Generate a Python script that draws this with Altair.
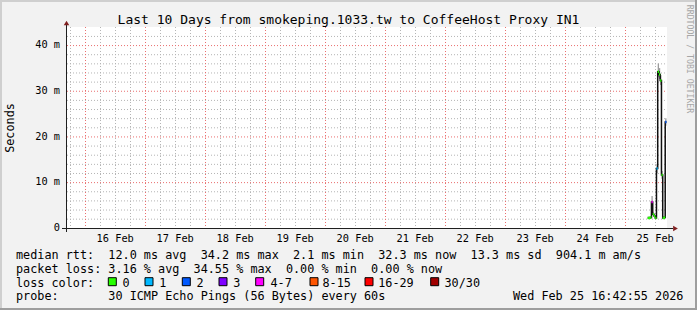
import altair as alt
import pandas as pd

# ---------------- data ----------------
sample_times = [
    "2026-02-25T09:00:00Z", "2026-02-25T09:30:00Z", "2026-02-25T10:00:00Z",
    "2026-02-25T10:30:00Z", "2026-02-25T11:00:00Z", "2026-02-25T11:30:00Z",
    "2026-02-25T12:00:00Z", "2026-02-25T12:30:00Z", "2026-02-25T13:00:00Z",
    "2026-02-25T13:30:00Z", "2026-02-25T14:00:00Z", "2026-02-25T14:30:00Z",
    "2026-02-25T15:00:00Z", "2026-02-25T15:30:00Z", "2026-02-25T16:00:00Z",
]
median_ms = [2.2, 2.2, 2.3, 5.7, 3.0, 2.6, 2.2, 13.0, 34.2, 33.6, 32.3, 11.6, 2.2, 2.3, 23.2]
smoke_lo_ms = [2.0, 2.0, 2.1, 4.6, 2.7, 2.4, 2.0, 12.0, 33.0, 32.6, 31.3, 10.8, 2.0, 2.1, 22.4]
smoke_hi_ms = [2.5, 2.5, 2.6, 7.0, 3.4, 2.9, 2.5, 14.0, 36.0, 35.0, 33.5, 12.5, 2.5, 2.6, 24.0]
loss_bucket = ["0", "0", "0", "4-7", "0", "0", "0", "1", "0", "0", "0", "0", "0", "0", "2"]

loss_labels = ["0", "1", "2", "3", "4-7", "8-15", "16-29", "30/30"]
loss_colors = ["#26ff00", "#00b8ff", "#0059ff", "#7e00ff", "#ff00ff", "#ff5500", "#ff0000", "#a10000"]

day_dates = ["2026-02-16", "2026-02-17", "2026-02-18", "2026-02-19", "2026-02-20",
             "2026-02-21", "2026-02-22", "2026-02-23", "2026-02-24", "2026-02-25"]
day_labels = ["16 Feb", "17 Feb", "18 Feb", "19 Feb", "20 Feb",
              "21 Feb", "22 Feb", "23 Feb", "24 Feb", "25 Feb"]

y_tick_values = [0, 10, 20, 30, 40]
y_tick_labels = ["0", "10 m", "20 m", "30 m", "40 m"]
y_major = [10, 20, 30, 40]
y_minor = [2, 4, 6, 8, 12, 14, 16, 18, 22, 24, 26, 28, 32, 34, 36, 38, 42]

title_text = "Last 10 Days from smokeping.1033.tw to CoffeeHost Proxy IN1"
legend_lines = [
    "median rtt:  12.0 ms avg  34.2 ms max  2.1 ms min  32.3 ms now  13.3 ms sd  904.1 m am/s",
    "packet loss: 3.16 % avg  34.55 % max  0.00 % min  0.00 % now",
    "loss color:",
    "probe:       30 ICMP Echo Pings (56 Bytes) every 60s",
]
probe_time = "Wed Feb 25 16:42:55 2026"
y_title = "Seconds"
watermark = "RRDTOOL / TOBI OETIKER"


def keep_spaces(s):
    return s.replace(" ", "\u00a0")


# ---------------- layout constants ----------------
W, H = 600, 201
PAD_L, PAD_T = 67, 27
FONT = "DejaVu Sans Mono"
FMT = "%Y-%m-%dT%H:%M:%SZ"

x_scale = alt.Scale(
    type="utc",
    domain=[
        alt.DateTime(year=2026, month=2, date=15, hours=16, minutes=42, seconds=55, utc=True),
        alt.DateTime(year=2026, month=2, date=25, hours=16, minutes=42, seconds=55, utc=True),
    ],
)
y_scale = alt.Scale(domain=[0, 44], nice=False, zero=True)
END = pd.Timestamp("2026-02-25T16:42:55Z")
START = pd.Timestamp("2026-02-15T16:42:55Z")

# ---------------- tables ----------------
t0 = pd.to_datetime(sample_times, utc=True)
t1 = t0 + pd.Timedelta(minutes=30)
df = pd.DataFrame({
    "t": t0.strftime(FMT),
    "t2": t1.strftime(FMT),
    "med": median_ms,
    "lo": smoke_lo_ms,
    "hi": smoke_hi_ms,
    "loss": loss_bucket,
})
df_line = pd.concat([
    df[["t", "med"]],
    pd.DataFrame({"t": [t1[-1].strftime(FMT)], "med": [median_ms[-1]]}),
], ignore_index=True)

midn = pd.to_datetime(day_dates, utc=True)
df_xmajor = pd.DataFrame({"t": midn.strftime(FMT)})
minor = [midn[0] - pd.Timedelta(hours=6)]
for d in midn:
    for h in (6, 12, 18):
        minor.append(d + pd.Timedelta(hours=h))
minor = [m for m in minor if START < m < END]
df_xminor = pd.DataFrame({"t": [m.strftime(FMT) for m in minor]})
df_xlab = pd.DataFrame({"t": (midn + pd.Timedelta(hours=12)).strftime(FMT), "lab": day_labels})

df_ymajor = pd.DataFrame({"v": y_major})
df_yminor = pd.DataFrame({"v": y_minor})
df_ylab = pd.DataFrame({"v": y_tick_values, "lab": y_tick_labels})

GRID = "#b4b4b4"
MGRID = "#ea6f6f"
DASH = [1, 2]

X = alt.X("t:T", scale=x_scale, axis=None)

yminor = alt.Chart(df_yminor).mark_rule(color=GRID, strokeDash=DASH, strokeWidth=1, yOffset=0.3).encode(
    y=alt.Y("v:Q", scale=y_scale, axis=None), x=alt.value(0), x2=alt.value(W))
xminor = alt.Chart(df_xminor).mark_rule(color=GRID, strokeDash=DASH, strokeWidth=1, xOffset=0.3).encode(
    x=X, y=alt.value(0), y2=alt.value(H))
ymajor = alt.Chart(df_ymajor).mark_rule(color=MGRID, strokeDash=DASH, strokeWidth=1, yOffset=0.3).encode(
    y=alt.Y("v:Q", scale=y_scale, axis=None), x=alt.value(0), x2=alt.value(W))
xmajor = alt.Chart(df_xmajor).mark_rule(color=MGRID, strokeDash=DASH, strokeWidth=1, xOffset=0.3).encode(
    x=X, y=alt.value(0), y2=alt.value(H))

smoke = alt.Chart(df).mark_rect(color="#9a9a9a").encode(
    x=X, x2="t2:T", y=alt.Y("lo:Q", scale=y_scale, axis=None), y2="hi:Q")
median_line = alt.Chart(df_line).mark_line(interpolate="step-after", color="#101010", strokeWidth=1.5).encode(
    x=X, y=alt.Y("med:Q", scale=y_scale, axis=None))
loss_seg = alt.Chart(df).mark_rule(strokeWidth=2.5).encode(
    x=X, x2="t2:T", y=alt.Y("med:Q", scale=y_scale, axis=None),
    color=alt.Color("loss:N", scale=alt.Scale(domain=loss_labels, range=loss_colors), legend=None))

# axes
AX = "#1f1f1f"
ARROW = "#802020"
xaxis = alt.Chart().mark_rule(color=AX, strokeWidth=1).encode(
    x=alt.value(-5), x2=alt.value(606), y=alt.value(H + 0.5))
yaxis = alt.Chart().mark_rule(color=AX, strokeWidth=1).encode(
    x=alt.value(-0.5), y=alt.value(-2), y2=alt.value(H + 4))
xarrow = alt.Chart().mark_point(shape="triangle-right", filled=True, color=ARROW, size=30, opacity=1).encode(
    x=alt.value(608.5), y=alt.value(H + 0.5))
yarrow = alt.Chart().mark_point(shape="triangle-up", filled=True, color=ARROW, size=30, opacity=1).encode(
    x=alt.value(-0.5), y=alt.value(-4))

ylab = alt.Chart(df_ylab).mark_text(font=FONT, fontSize=10.3, align="right", baseline="middle", color="black").encode(
    y=alt.Y("v:Q", scale=y_scale, axis=None), x=alt.value(-7), text="lab:N")
xlab = alt.Chart(df_xlab).mark_text(font=FONT, fontSize=10.3, align="center", baseline="alphabetic", color="black").encode(
    x=X, y=alt.value(214.5), text="lab:N")

title = alt.Chart().mark_text(font=FONT, fontSize=13, align="center", baseline="alphabetic", color="black",
                              text=keep_spaces(title_text)).encode(x=alt.value(281.5), y=alt.value(-3))
ytitle = alt.Chart().mark_text(font=FONT, fontSize=11.8, align="center", baseline="middle", angle=270,
                               color="black", text=y_title).encode(x=alt.value(10 - PAD_L), y=alt.value(128 - PAD_T))
wm = alt.Chart().mark_text(font=FONT, fontSize=8.2, align="center", baseline="middle", angle=90,
                           color="#a6a6a6", text=keep_spaces(watermark)).encode(
    x=alt.value(689 - PAD_L), y=alt.value(59 - PAD_T))

legend_baselines = [258.5, 272.5, 286.5, 300.0]
legend_layers = []
for line, yb in zip(legend_lines, legend_baselines):
    legend_layers.append(
        alt.Chart().mark_text(font=FONT, fontSize=11.8, align="left", baseline="alphabetic", color="black",
                              text=keep_spaces(line)).encode(x=alt.value(16 - PAD_L), y=alt.value(yb - PAD_T)))
legend_layers.append(
    alt.Chart().mark_text(font=FONT, fontSize=11.8, align="left", baseline="alphabetic", color="black",
                          text=keep_spaces(probe_time)).encode(x=alt.value(513 - PAD_L), y=alt.value(300.0 - PAD_T)))

# loss colour swatches (layout positions in pixels)
sq_left_abs = [108.3, 145.0, 182.3, 219.0, 255.7, 310.0, 365.0, 430.7]
lab_left_abs = [122.5, 159.2, 196.5, 233.2, 270.5, 322.5, 378.2, 444.5]
df_sq = pd.DataFrame({
    "x": [v - PAD_L for v in sq_left_abs],
    "x2": [v - PAD_L + 8 for v in sq_left_abs],
    "y": [277.7 - PAD_T] * 8,
    "y2": [285.7 - PAD_T] * 8,
    "col": loss_colors,
    "lx": [v - PAD_L for v in lab_left_abs],
    "ly": [286.5 - PAD_T] * 8,
    "lab": loss_labels,
})
swatch = alt.Chart(df_sq).mark_rect(stroke="black", strokeWidth=1).encode(
    x=alt.X("x:Q", scale=None, axis=None), x2="x2:Q",
    y=alt.Y("y:Q", scale=None, axis=None), y2="y2:Q",
    fill=alt.Fill("col:N", scale=None))
swatch_lab = alt.Chart(df_sq).mark_text(font=FONT, fontSize=11.8, align="left", baseline="alphabetic",
                                        color="black").encode(
    x=alt.X("lx:Q", scale=None, axis=None), y=alt.Y("ly:Q", scale=None, axis=None), text="lab:N")

# image frame shading
df_frame = pd.DataFrame({
    "x": [-67, -67, -67, 628],
    "x2": [630, -65, 630, 630],
    "y": [-27, -27, 281, -27],
    "y2": [-25, 283, 283, 283],
    "col": ["#cfcfcf", "#cfcfcf", "#9e9e9e", "#9e9e9e"],
})
frame = alt.Chart(df_frame).mark_rect().encode(
    x=alt.X("x:Q", scale=None, axis=None), x2="x2:Q",
    y=alt.Y("y:Q", scale=None, axis=None), y2="y2:Q",
    fill=alt.Fill("col:N", scale=None))

chart = alt.layer(
    yminor, xminor, ymajor, xmajor,
    smoke, median_line, loss_seg,
    xaxis, yaxis, xarrow, yarrow,
    ylab, xlab, title, ytitle, wm,
    *legend_layers, swatch, swatch_lab, frame,
).resolve_scale(
    x="independent", y="independent", color="independent", fill="independent"
).properties(
    width=W, height=H,
    background="#f2f2f2",
    padding={"left": PAD_L, "top": PAD_T, "right": 697 - PAD_L - W, "bottom": 310 - PAD_T - H},
    autosize=alt.AutoSizeParams(type="none"),
).configure_view(fill="white", strokeWidth=0)

chart.save("out.html", embed_options={"renderer": "svg", "actions": False})
